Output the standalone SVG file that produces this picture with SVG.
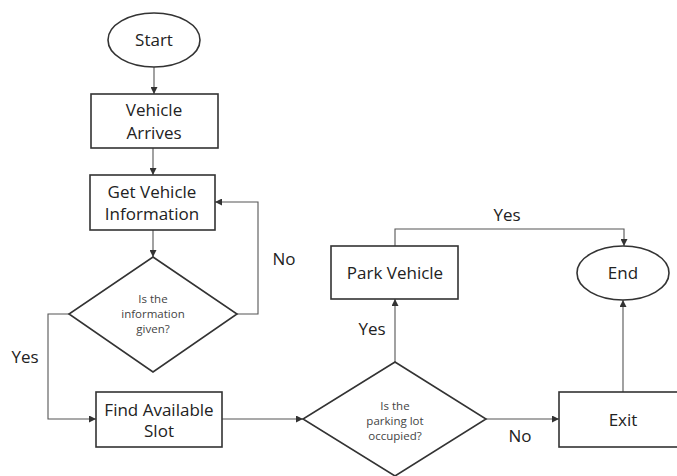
<svg xmlns="http://www.w3.org/2000/svg" width="677" height="476" viewBox="0 0 677 476">
  <style>
    .shape { fill: #ffffff; stroke: #333333; stroke-width: 1.6; }
    .edge { fill: none; stroke: #555555; stroke-width: 1.1; marker-end: url(#arrow); }
    text { font-family: "Open Sans", "Noto Sans", "DejaVu Sans", sans-serif; fill: #222222; text-anchor: middle; }
    .lbl { font-size: 17px; }
    .small { font-size: 11.5px; fill: #444444; }
  </style>
  <defs>
    <marker id="arrow" viewBox="0 0 10 10" refX="10" refY="5" markerWidth="7" markerHeight="7" markerUnits="userSpaceOnUse" orient="auto">
      <path d="M0,0 L10,5 L0,10 z" fill="#333333"/>
    </marker>
  </defs>
  <rect width="677" height="476" fill="#ffffff"/>

  <g id="connectors">
    <path class="edge" d="M154,67 L154,94"/>
    <path class="edge" d="M153,148 L153,175"/>
    <path class="edge" d="M153,230 L153,257"/>
    <path class="edge" d="M237,314 L258,314 L258,202 L215,202"/>
    <path class="edge" d="M69,314 L48,314 L48,419 L96,419"/>
    <path class="edge" d="M222,419 L303,419"/>
    <path class="edge" d="M395,362 L395,299"/>
    <path class="edge" d="M395,246 L395,229 L624,229 L624,246"/>
    <path class="edge" d="M486,419 L559,419"/>
    <path class="edge" d="M623,392 L623,300"/>
    <text class="lbl" x="284" y="265">No</text>
    <text class="lbl" x="25" y="363">Yes</text>
    <text class="lbl" x="372" y="335">Yes</text>
    <text class="lbl" x="507" y="221">Yes</text>
    <text class="lbl" x="520" y="442">No</text>
  </g>

  <g id="start">
    <ellipse class="shape" cx="154" cy="40" rx="46" ry="27"/>
    <text class="lbl" x="154" y="46">Start</text>
  </g>

  <g id="vehicle-arrives">
    <rect class="shape" x="91" y="94" width="127" height="54"/>
    <text class="lbl" x="154" y="116">Vehicle</text>
    <text class="lbl" x="154" y="139">Arrives</text>
  </g>

  <g id="get-info">
    <rect class="shape" x="90" y="175" width="125" height="55"/>
    <text class="lbl" x="152" y="198">Get Vehicle</text>
    <text class="lbl" x="152" y="220">Information</text>
  </g>

  <g id="info-given">
    <polygon class="shape" points="153,257 237,314 153,372 69,314"/>
    <text class="small" x="153" y="303">Is the</text>
    <text class="small" x="153" y="318">information</text>
    <text class="small" x="153" y="333">given?</text>
  </g>

  <g id="find-slot">
    <rect class="shape" x="96" y="392" width="126" height="55"/>
    <text class="lbl" x="159" y="416">Find Available</text>
    <text class="lbl" x="159" y="437">Slot</text>
  </g>

  <g id="lot-occupied">
    <polygon class="shape" points="395,362 486,419 395,476 303,419"/>
    <text class="small" x="395" y="410">Is the</text>
    <text class="small" x="395" y="425">parking lot</text>
    <text class="small" x="395" y="440">occupied?</text>
  </g>

  <g id="park-vehicle">
    <rect class="shape" x="331" y="246" width="127" height="53"/>
    <text class="lbl" x="395" y="279">Park Vehicle</text>
  </g>

  <g id="end">
    <ellipse class="shape" cx="623" cy="273" rx="46" ry="27"/>
    <text class="lbl" x="623" y="279">End</text>
  </g>

  <g id="exit">
    <rect class="shape" x="559" y="392" width="128" height="55"/>
    <text class="lbl" x="623" y="426">Exit</text>
  </g>
</svg>
